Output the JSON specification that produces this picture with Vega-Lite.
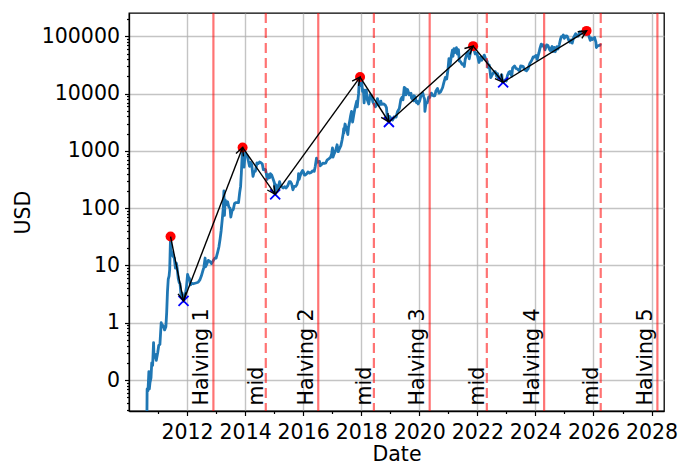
{
  "$schema": "https://vega.github.io/schema/vega-lite/v6.json",
  "autosize": {"type": "none"},
  "width": 535,
  "height": 398,
  "padding": {"left": 129, "top": 13, "right": 14, "bottom": 54},
  "background": "white",
  "config": {
    "view": {"stroke": "black", "strokeWidth": 1.3},
    "axis": {
      "labelFont": "DejaVu Sans",
      "labelFontSize": 20.5,
      "labelColor": "black",
      "titleFont": "DejaVu Sans",
      "titleFontSize": 20.5,
      "titleFontWeight": "normal",
      "titleColor": "black",
      "domainColor": "black",
      "domainWidth": 1.3,
      "tickColor": "black",
      "tickWidth": 1.2,
      "gridColor": "#b0b0b0",
      "gridWidth": 1.4
    }
  },
  "datasets": {
    "prices": [
      {"date": "2010-08-12", "usd": 0.008},
      {"date": "2010-08-17", "usd": 0.07},
      {"date": "2010-08-28", "usd": 0.065},
      {"date": "2010-09-08", "usd": 0.14},
      {"date": "2010-09-14", "usd": 0.07},
      {"date": "2010-09-22", "usd": 0.09},
      {"date": "2010-10-05", "usd": 0.11},
      {"date": "2010-10-14", "usd": 0.2},
      {"date": "2010-10-25", "usd": 0.18},
      {"date": "2010-11-06", "usd": 0.45},
      {"date": "2010-11-12", "usd": 0.25},
      {"date": "2010-11-25", "usd": 0.28},
      {"date": "2010-12-10", "usd": 0.22},
      {"date": "2010-12-28", "usd": 0.3},
      {"date": "2011-01-10", "usd": 0.4},
      {"date": "2011-01-25", "usd": 0.42},
      {"date": "2011-02-10", "usd": 1.0},
      {"date": "2011-02-20", "usd": 0.9},
      {"date": "2011-03-05", "usd": 0.9},
      {"date": "2011-03-25", "usd": 0.75},
      {"date": "2011-04-10", "usd": 0.85},
      {"date": "2011-04-20", "usd": 1.5},
      {"date": "2011-04-30", "usd": 3.5},
      {"date": "2011-05-10", "usd": 5.8},
      {"date": "2011-05-20", "usd": 6.5},
      {"date": "2011-05-28", "usd": 8.5},
      {"date": "2011-06-03", "usd": 18},
      {"date": "2011-06-08", "usd": 32},
      {"date": "2011-06-14", "usd": 19},
      {"date": "2011-06-20", "usd": 15},
      {"date": "2011-06-28", "usd": 17},
      {"date": "2011-07-10", "usd": 14.5},
      {"date": "2011-07-25", "usd": 13.5},
      {"date": "2011-08-08", "usd": 9},
      {"date": "2011-08-20", "usd": 11},
      {"date": "2011-09-01", "usd": 8.5},
      {"date": "2011-09-12", "usd": 6},
      {"date": "2011-09-25", "usd": 5},
      {"date": "2011-10-05", "usd": 4.8},
      {"date": "2011-10-20", "usd": 2.8},
      {"date": "2011-11-01", "usd": 3.3},
      {"date": "2011-11-18", "usd": 2.4},
      {"date": "2011-11-28", "usd": 2.6},
      {"date": "2011-12-10", "usd": 3.1},
      {"date": "2011-12-25", "usd": 4.2},
      {"date": "2012-01-08", "usd": 7.0},
      {"date": "2012-01-18", "usd": 6.3},
      {"date": "2012-02-01", "usd": 5.9},
      {"date": "2012-02-15", "usd": 4.6},
      {"date": "2012-03-01", "usd": 4.9},
      {"date": "2012-03-20", "usd": 4.8},
      {"date": "2012-04-10", "usd": 4.9},
      {"date": "2012-05-01", "usd": 5.0},
      {"date": "2012-05-20", "usd": 5.1},
      {"date": "2012-06-10", "usd": 5.6},
      {"date": "2012-06-30", "usd": 6.6},
      {"date": "2012-07-15", "usd": 7.8},
      {"date": "2012-07-31", "usd": 9.3},
      {"date": "2012-08-16", "usd": 13.5},
      {"date": "2012-08-20", "usd": 9.5},
      {"date": "2012-09-05", "usd": 10.5},
      {"date": "2012-09-25", "usd": 12.3},
      {"date": "2012-10-15", "usd": 11.8},
      {"date": "2012-11-05", "usd": 10.8},
      {"date": "2012-11-28", "usd": 12.3},
      {"date": "2012-12-15", "usd": 13.4},
      {"date": "2013-01-01", "usd": 13.5},
      {"date": "2013-01-20", "usd": 17},
      {"date": "2013-02-05", "usd": 21},
      {"date": "2013-02-20", "usd": 29},
      {"date": "2013-03-05", "usd": 40},
      {"date": "2013-03-20", "usd": 65},
      {"date": "2013-04-01", "usd": 100},
      {"date": "2013-04-09", "usd": 200},
      {"date": "2013-04-16", "usd": 75},
      {"date": "2013-04-25", "usd": 140},
      {"date": "2013-05-10", "usd": 115},
      {"date": "2013-05-25", "usd": 130},
      {"date": "2013-06-10", "usd": 105},
      {"date": "2013-06-25", "usd": 100},
      {"date": "2013-07-05", "usd": 70},
      {"date": "2013-07-20", "usd": 90},
      {"date": "2013-08-05", "usd": 95},
      {"date": "2013-08-20", "usd": 120},
      {"date": "2013-09-05", "usd": 125},
      {"date": "2013-09-25", "usd": 125},
      {"date": "2013-10-10", "usd": 125},
      {"date": "2013-10-25", "usd": 190},
      {"date": "2013-11-05", "usd": 240},
      {"date": "2013-11-15", "usd": 420},
      {"date": "2013-11-20", "usd": 600},
      {"date": "2013-11-30", "usd": 1150},
      {"date": "2013-12-07", "usd": 800},
      {"date": "2013-12-18", "usd": 520},
      {"date": "2013-12-25", "usd": 670},
      {"date": "2014-01-05", "usd": 930},
      {"date": "2014-01-15", "usd": 830},
      {"date": "2014-02-01", "usd": 820},
      {"date": "2014-02-10", "usd": 680},
      {"date": "2014-02-25", "usd": 540},
      {"date": "2014-03-10", "usd": 630},
      {"date": "2014-03-25", "usd": 580},
      {"date": "2014-04-10", "usd": 360},
      {"date": "2014-04-25", "usd": 440},
      {"date": "2014-05-10", "usd": 440},
      {"date": "2014-05-30", "usd": 620},
      {"date": "2014-06-15", "usd": 600},
      {"date": "2014-07-01", "usd": 640},
      {"date": "2014-07-20", "usd": 620},
      {"date": "2014-08-05", "usd": 590},
      {"date": "2014-08-18", "usd": 470},
      {"date": "2014-09-01", "usd": 475},
      {"date": "2014-09-15", "usd": 470},
      {"date": "2014-09-25", "usd": 400},
      {"date": "2014-10-05", "usd": 320},
      {"date": "2014-10-20", "usd": 385},
      {"date": "2014-11-05", "usd": 340},
      {"date": "2014-11-15", "usd": 400},
      {"date": "2014-12-01", "usd": 380},
      {"date": "2014-12-20", "usd": 320},
      {"date": "2015-01-05", "usd": 275},
      {"date": "2015-01-14", "usd": 175},
      {"date": "2015-01-25", "usd": 255},
      {"date": "2015-02-10", "usd": 220},
      {"date": "2015-02-25", "usd": 240},
      {"date": "2015-03-10", "usd": 290},
      {"date": "2015-03-25", "usd": 245},
      {"date": "2015-04-10", "usd": 235},
      {"date": "2015-04-25", "usd": 225},
      {"date": "2015-05-15", "usd": 238},
      {"date": "2015-06-01", "usd": 225},
      {"date": "2015-06-20", "usd": 245},
      {"date": "2015-07-10", "usd": 290},
      {"date": "2015-07-25", "usd": 290},
      {"date": "2015-08-10", "usd": 265},
      {"date": "2015-08-25", "usd": 210},
      {"date": "2015-09-10", "usd": 240},
      {"date": "2015-09-28", "usd": 240},
      {"date": "2015-10-15", "usd": 260},
      {"date": "2015-10-31", "usd": 315},
      {"date": "2015-11-04", "usd": 400},
      {"date": "2015-11-12", "usd": 320},
      {"date": "2015-11-25", "usd": 370},
      {"date": "2015-12-10", "usd": 420},
      {"date": "2015-12-25", "usd": 455},
      {"date": "2016-01-05", "usd": 430},
      {"date": "2016-01-15", "usd": 380},
      {"date": "2016-01-28", "usd": 380},
      {"date": "2016-02-15", "usd": 400},
      {"date": "2016-03-01", "usd": 430},
      {"date": "2016-03-20", "usd": 410},
      {"date": "2016-04-10", "usd": 420},
      {"date": "2016-04-30", "usd": 450},
      {"date": "2016-05-20", "usd": 440},
      {"date": "2016-06-01", "usd": 535},
      {"date": "2016-06-17", "usd": 750},
      {"date": "2016-06-25", "usd": 630},
      {"date": "2016-07-09", "usd": 650},
      {"date": "2016-07-25", "usd": 655},
      {"date": "2016-08-03", "usd": 550},
      {"date": "2016-08-20", "usd": 580},
      {"date": "2016-09-05", "usd": 610},
      {"date": "2016-09-25", "usd": 605},
      {"date": "2016-10-10", "usd": 615},
      {"date": "2016-10-28", "usd": 690},
      {"date": "2016-11-10", "usd": 715},
      {"date": "2016-11-25", "usd": 740},
      {"date": "2016-12-10", "usd": 770},
      {"date": "2016-12-25", "usd": 890},
      {"date": "2017-01-04", "usd": 1130},
      {"date": "2017-01-11", "usd": 780},
      {"date": "2017-01-25", "usd": 890},
      {"date": "2017-02-10", "usd": 1000},
      {"date": "2017-02-25", "usd": 1170},
      {"date": "2017-03-03", "usd": 1280},
      {"date": "2017-03-18", "usd": 970},
      {"date": "2017-04-01", "usd": 1090},
      {"date": "2017-04-20", "usd": 1240},
      {"date": "2017-05-05", "usd": 1550},
      {"date": "2017-05-20", "usd": 2050},
      {"date": "2017-05-25", "usd": 2450},
      {"date": "2017-05-27", "usd": 2050},
      {"date": "2017-06-11", "usd": 2950},
      {"date": "2017-06-20", "usd": 2700},
      {"date": "2017-07-01", "usd": 2450},
      {"date": "2017-07-16", "usd": 1930},
      {"date": "2017-07-25", "usd": 2600},
      {"date": "2017-08-10", "usd": 3400},
      {"date": "2017-08-20", "usd": 4100},
      {"date": "2017-09-01", "usd": 4900},
      {"date": "2017-09-14", "usd": 3200},
      {"date": "2017-09-30", "usd": 4350},
      {"date": "2017-10-12", "usd": 5400},
      {"date": "2017-10-20", "usd": 6000},
      {"date": "2017-11-05", "usd": 7400},
      {"date": "2017-11-12", "usd": 5900},
      {"date": "2017-11-28", "usd": 9900},
      {"date": "2017-12-07", "usd": 16500},
      {"date": "2017-12-17", "usd": 19500},
      {"date": "2017-12-22", "usd": 13800},
      {"date": "2018-01-06", "usd": 17100},
      {"date": "2018-01-17", "usd": 11000},
      {"date": "2018-01-28", "usd": 11700},
      {"date": "2018-02-06", "usd": 6900},
      {"date": "2018-02-20", "usd": 11400},
      {"date": "2018-03-05", "usd": 11500},
      {"date": "2018-03-18", "usd": 7800},
      {"date": "2018-04-06", "usd": 6600},
      {"date": "2018-04-24", "usd": 9600},
      {"date": "2018-05-10", "usd": 9300},
      {"date": "2018-05-28", "usd": 7100},
      {"date": "2018-06-12", "usd": 6500},
      {"date": "2018-06-28", "usd": 5900},
      {"date": "2018-07-10", "usd": 6300},
      {"date": "2018-07-24", "usd": 8200},
      {"date": "2018-08-14", "usd": 6200},
      {"date": "2018-09-04", "usd": 7400},
      {"date": "2018-09-15", "usd": 6500},
      {"date": "2018-10-10", "usd": 6600},
      {"date": "2018-10-30", "usd": 6300},
      {"date": "2018-11-14", "usd": 5700},
      {"date": "2018-11-25", "usd": 3800},
      {"date": "2018-12-05", "usd": 3800},
      {"date": "2018-12-15", "usd": 3200},
      {"date": "2018-12-24", "usd": 4000},
      {"date": "2019-01-10", "usd": 3700},
      {"date": "2019-01-29", "usd": 3450},
      {"date": "2019-02-20", "usd": 3950},
      {"date": "2019-03-15", "usd": 3900},
      {"date": "2019-04-03", "usd": 4900},
      {"date": "2019-04-25", "usd": 5500},
      {"date": "2019-05-14", "usd": 7900},
      {"date": "2019-05-30", "usd": 8700},
      {"date": "2019-06-10", "usd": 7800},
      {"date": "2019-06-26", "usd": 12900},
      {"date": "2019-07-02", "usd": 10600},
      {"date": "2019-07-10", "usd": 12500},
      {"date": "2019-07-17", "usd": 9500},
      {"date": "2019-08-06", "usd": 11800},
      {"date": "2019-08-29", "usd": 9500},
      {"date": "2019-09-19", "usd": 10200},
      {"date": "2019-09-25", "usd": 8400},
      {"date": "2019-10-23", "usd": 7500},
      {"date": "2019-10-26", "usd": 9200},
      {"date": "2019-11-10", "usd": 8800},
      {"date": "2019-11-25", "usd": 7000},
      {"date": "2019-12-10", "usd": 7300},
      {"date": "2019-12-17", "usd": 6600},
      {"date": "2020-01-05", "usd": 7400},
      {"date": "2020-01-19", "usd": 8900},
      {"date": "2020-02-13", "usd": 10300},
      {"date": "2020-02-28", "usd": 8700},
      {"date": "2020-03-08", "usd": 8000},
      {"date": "2020-03-12", "usd": 4900},
      {"date": "2020-03-25", "usd": 6700},
      {"date": "2020-04-10", "usd": 6900},
      {"date": "2020-04-29", "usd": 8800},
      {"date": "2020-05-11", "usd": 8600},
      {"date": "2020-06-01", "usd": 10200},
      {"date": "2020-06-25", "usd": 9200},
      {"date": "2020-07-15", "usd": 9200},
      {"date": "2020-07-28", "usd": 11100},
      {"date": "2020-08-17", "usd": 12300},
      {"date": "2020-09-05", "usd": 10200},
      {"date": "2020-09-25", "usd": 10700},
      {"date": "2020-10-21", "usd": 12800},
      {"date": "2020-11-05", "usd": 15600},
      {"date": "2020-11-24", "usd": 19200},
      {"date": "2020-12-11", "usd": 18000},
      {"date": "2020-12-27", "usd": 26300},
      {"date": "2021-01-08", "usd": 40800},
      {"date": "2021-01-22", "usd": 30800},
      {"date": "2021-02-08", "usd": 46400},
      {"date": "2021-02-21", "usd": 57500},
      {"date": "2021-02-28", "usd": 45000},
      {"date": "2021-03-13", "usd": 61200},
      {"date": "2021-03-25", "usd": 52000},
      {"date": "2021-04-13", "usd": 63500},
      {"date": "2021-04-25", "usd": 49000},
      {"date": "2021-05-08", "usd": 58800},
      {"date": "2021-05-19", "usd": 37000},
      {"date": "2021-06-05", "usd": 36000},
      {"date": "2021-06-22", "usd": 32500},
      {"date": "2021-07-08", "usd": 33000},
      {"date": "2021-07-20", "usd": 29800},
      {"date": "2021-08-01", "usd": 39900},
      {"date": "2021-08-22", "usd": 49300},
      {"date": "2021-09-06", "usd": 52700},
      {"date": "2021-09-21", "usd": 40600},
      {"date": "2021-10-01", "usd": 48200},
      {"date": "2021-10-20", "usd": 66000},
      {"date": "2021-10-27", "usd": 58500},
      {"date": "2021-11-08", "usd": 67500},
      {"date": "2021-11-20", "usd": 59000},
      {"date": "2021-12-04", "usd": 49300},
      {"date": "2021-12-27", "usd": 50700},
      {"date": "2022-01-10", "usd": 41800},
      {"date": "2022-01-22", "usd": 35000},
      {"date": "2022-02-10", "usd": 44000},
      {"date": "2022-02-24", "usd": 38300},
      {"date": "2022-03-28", "usd": 47100},
      {"date": "2022-04-15", "usd": 40500},
      {"date": "2022-05-05", "usd": 36500},
      {"date": "2022-05-12", "usd": 28900},
      {"date": "2022-05-30", "usd": 31800},
      {"date": "2022-06-13", "usd": 22500},
      {"date": "2022-06-18", "usd": 19000},
      {"date": "2022-07-08", "usd": 21600},
      {"date": "2022-07-30", "usd": 24000},
      {"date": "2022-08-14", "usd": 24300},
      {"date": "2022-08-31", "usd": 20000},
      {"date": "2022-09-12", "usd": 22400},
      {"date": "2022-09-21", "usd": 18500},
      {"date": "2022-10-10", "usd": 19100},
      {"date": "2022-11-05", "usd": 21300},
      {"date": "2022-11-10", "usd": 16000},
      {"date": "2022-11-21", "usd": 15800},
      {"date": "2022-12-15", "usd": 17400},
      {"date": "2022-12-30", "usd": 16600},
      {"date": "2023-01-15", "usd": 20900},
      {"date": "2023-02-01", "usd": 23700},
      {"date": "2023-02-16", "usd": 24400},
      {"date": "2023-03-10", "usd": 20200},
      {"date": "2023-03-20", "usd": 28000},
      {"date": "2023-04-14", "usd": 30500},
      {"date": "2023-05-01", "usd": 27600},
      {"date": "2023-05-15", "usd": 27200},
      {"date": "2023-06-15", "usd": 25000},
      {"date": "2023-06-30", "usd": 30500},
      {"date": "2023-07-15", "usd": 30300},
      {"date": "2023-08-01", "usd": 29700},
      {"date": "2023-08-18", "usd": 26100},
      {"date": "2023-09-11", "usd": 25100},
      {"date": "2023-09-30", "usd": 27000},
      {"date": "2023-10-24", "usd": 34000},
      {"date": "2023-11-15", "usd": 37800},
      {"date": "2023-12-05", "usd": 44000},
      {"date": "2023-12-20", "usd": 43600},
      {"date": "2024-01-11", "usd": 46600},
      {"date": "2024-01-23", "usd": 39500},
      {"date": "2024-02-15", "usd": 51900},
      {"date": "2024-02-28", "usd": 62500},
      {"date": "2024-03-14", "usd": 73100},
      {"date": "2024-03-20", "usd": 67800},
      {"date": "2024-04-08", "usd": 71600},
      {"date": "2024-04-20", "usd": 64900},
      {"date": "2024-05-01", "usd": 58000},
      {"date": "2024-05-21", "usd": 71000},
      {"date": "2024-06-07", "usd": 69400},
      {"date": "2024-06-24", "usd": 60300},
      {"date": "2024-07-05", "usd": 56700},
      {"date": "2024-07-29", "usd": 66800},
      {"date": "2024-08-05", "usd": 54000},
      {"date": "2024-08-25", "usd": 64200},
      {"date": "2024-09-06", "usd": 53900},
      {"date": "2024-09-27", "usd": 65800},
      {"date": "2024-10-10", "usd": 60300},
      {"date": "2024-10-29", "usd": 72700},
      {"date": "2024-11-13", "usd": 90500},
      {"date": "2024-11-22", "usd": 98900},
      {"date": "2024-12-05", "usd": 98000},
      {"date": "2024-12-17", "usd": 106100},
      {"date": "2024-12-30", "usd": 92600},
      {"date": "2025-01-20", "usd": 102000},
      {"date": "2025-02-03", "usd": 101000},
      {"date": "2025-02-26", "usd": 84300},
      {"date": "2025-03-10", "usd": 78500},
      {"date": "2025-03-26", "usd": 87000},
      {"date": "2025-04-08", "usd": 76300},
      {"date": "2025-04-25", "usd": 94700},
      {"date": "2025-05-22", "usd": 111700},
      {"date": "2025-06-05", "usd": 101500},
      {"date": "2025-06-22", "usd": 101000},
      {"date": "2025-07-14", "usd": 119800},
      {"date": "2025-07-30", "usd": 117800},
      {"date": "2025-08-13", "usd": 123300},
      {"date": "2025-08-31", "usd": 108200},
      {"date": "2025-09-18", "usd": 117000},
      {"date": "2025-09-25", "usd": 109000},
      {"date": "2025-10-06", "usd": 124700},
      {"date": "2025-10-10", "usd": 113000},
      {"date": "2025-10-27", "usd": 114000},
      {"date": "2025-11-04", "usd": 101500},
      {"date": "2025-11-21", "usd": 85000},
      {"date": "2025-12-03", "usd": 93500},
      {"date": "2025-12-20", "usd": 88000},
      {"date": "2026-01-14", "usd": 96000},
      {"date": "2026-01-31", "usd": 79000},
      {"date": "2026-02-06", "usd": 64000},
      {"date": "2026-02-20", "usd": 68000},
      {"date": "2026-03-10", "usd": 69000},
      {"date": "2026-03-25", "usd": 71000},
      {"date": "2026-04-10", "usd": 70000}
    ],
    "events": [
      {"date": "2012-11-28", "label": "Halving 1", "kind": "halving"},
      {"date": "2014-09-18", "label": "mid", "kind": "mid"},
      {"date": "2016-07-09", "label": "Halving 2", "kind": "halving"},
      {"date": "2018-06-09", "label": "mid", "kind": "mid"},
      {"date": "2020-05-11", "label": "Halving 3", "kind": "halving"},
      {"date": "2022-04-30", "label": "mid", "kind": "mid"},
      {"date": "2024-04-20", "label": "Halving 4", "kind": "halving"},
      {"date": "2026-04-02", "label": "mid", "kind": "mid"},
      {"date": "2028-03-15", "label": "Halving 5", "kind": "halving"}
    ],
    "extremes": [
      {"date": "2011-06-08", "usd": 32, "kind": "peak"},
      {"date": "2011-11-18", "usd": 2.4, "kind": "trough"},
      {"date": "2013-11-30", "usd": 1150, "kind": "peak"},
      {"date": "2015-01-14", "usd": 175, "kind": "trough"},
      {"date": "2017-12-17", "usd": 19500, "kind": "peak"},
      {"date": "2018-12-15", "usd": 3200, "kind": "trough"},
      {"date": "2021-11-08", "usd": 67500, "kind": "peak"},
      {"date": "2022-11-21", "usd": 15800, "kind": "trough"},
      {"date": "2025-10-06", "usd": 124700, "kind": "peak"}
    ]
  },
  "encoding": {
    "x": {
      "field": "date",
      "type": "temporal",
      "scale": {"domain": [{"year": 2010, "month": 1, "date": 1}, {"year": 2028, "month": 6, "date": 6}], "nice": false},
      "axis": {
        "title": "Date",
        "values": [
          {"year": 2011}, {"year": 2012}, {"year": 2013}, {"year": 2014}, {"year": 2015}, {"year": 2016},
          {"year": 2017}, {"year": 2018}, {"year": 2019}, {"year": 2020}, {"year": 2021}, {"year": 2022},
          {"year": 2023}, {"year": 2024}, {"year": 2025}, {"year": 2026}, {"year": 2027}, {"year": 2028}
        ],
        "labelExpr": "year(datum.value) % 2 == 0 ? timeFormat(datum.value, '%Y') : ''",
        "tickSize": {"condition": {"test": "year(datum.value) % 2 == 0", "value": 4.5}, "value": 2.5},
        "gridOpacity": {"condition": {"test": "year(datum.value) % 2 == 0", "value": 0.75}, "value": 0},
        "labelPadding": 7,
        "labelFlush": false,
        "labelOverlap": false,
        "labelBound": false,
        "titlePadding": 1
      }
    }
  },
  "layer": [
    {
      "data": {"name": "prices"},
      "mark": {"type": "line", "color": "#1f77b4", "strokeWidth": 2.8, "clip": true, "strokeJoin": "round"},
      "encoding": {
        "y": {
          "field": "usd",
          "type": "quantitative",
          "scale": {"type": "log", "domain": [0.0288, 256000], "nice": false},
          "axis": {
            "title": "USD",
            "values": [
              0.03, 0.04, 0.05, 0.06, 0.07, 0.08, 0.09,
              0.1, 0.2, 0.3, 0.4, 0.5, 0.6, 0.7, 0.8, 0.9,
              1, 2, 3, 4, 5, 6, 7, 8, 9,
              10, 20, 30, 40, 50, 60, 70, 80, 90,
              100, 200, 300, 400, 500, 600, 700, 800, 900,
              1000, 2000, 3000, 4000, 5000, 6000, 7000, 8000, 9000,
              10000, 20000, 30000, 40000, 50000, 60000, 70000, 80000, 90000,
              100000, 200000
            ],
            "format": "d",
            "labelExpr": "abs(log(datum.value) / LN10 - round(log(datum.value) / LN10)) < 0.001 ? datum.label : ''",
            "tickSize": {"condition": {"test": "abs(log(datum.value) / LN10 - round(log(datum.value) / LN10)) < 0.001", "value": 4.5}, "value": 2.5},
            "gridOpacity": {"condition": {"test": "abs(log(datum.value) / LN10 - round(log(datum.value) / LN10)) < 0.001", "value": 0.75}, "value": 0},
            "labelPadding": 5,
            "labelOverlap": false,
            "labelBound": false,
            "titlePadding": 8
          }
        }
      }
    },
    {
      "data": {"name": "events"},
      "mark": {"type": "rule", "color": "red", "opacity": 0.55, "strokeWidth": 2.2},
      "encoding": {
        "strokeDash": {
          "field": "kind",
          "type": "nominal",
          "scale": {"domain": ["halving", "mid"], "range": [[1, 0], [10, 5]]},
          "legend": null
        }
      }
    },
    {
      "data": {"name": "events"},
      "transform": [{"filter": "datum.kind == 'halving'"}],
      "mark": {"type": "text", "angle": 270, "align": "left", "baseline": "alphabetic", "dy": -5.6, "font": "DejaVu Sans", "fontSize": 20.5, "fill": "black"},
      "encoding": {
        "y": {"datum": 0.036},
        "text": {"field": "label", "type": "nominal"}
      }
    },
    {
      "data": {"name": "events"},
      "transform": [{"filter": "datum.kind == 'mid'"}],
      "mark": {"type": "text", "angle": 270, "align": "left", "baseline": "alphabetic", "dy": -2.7, "font": "DejaVu Sans", "fontSize": 20.5, "fill": "black"},
      "encoding": {
        "y": {"datum": 0.036},
        "text": {"field": "label", "type": "nominal"}
      }
    },
    {
      "data": {"name": "extremes"},
      "transform": [{"filter": "datum.kind == 'peak'"}],
      "mark": {"type": "point", "shape": "circle", "filled": true, "color": "#ff0000", "opacity": 1, "size": 100},
      "encoding": {
        "y": {"field": "usd", "type": "quantitative"}
      }
    },
    {
      "data": {"name": "extremes"},
      "transform": [{"filter": "datum.kind == 'trough'"}],
      "mark": {"type": "point", "shape": "M -1 -1 L 1 1 M -1 1 L 1 -1", "filled": false, "stroke": "#0000ff", "strokeWidth": 1.8, "opacity": 1, "size": 100},
      "encoding": {
        "y": {"field": "usd", "type": "quantitative"}
      }
    },
    {
      "data": {
        "values": [
          {"date": "2011-06-08", "usd": 32, "to_date": "2011-11-18", "to_usd": 2.4},
          {"date": "2011-11-18", "usd": 2.4, "to_date": "2013-11-30", "to_usd": 1150},
          {"date": "2013-11-30", "usd": 1150, "to_date": "2015-01-14", "to_usd": 175},
          {"date": "2015-01-14", "usd": 175, "to_date": "2017-12-17", "to_usd": 19500},
          {"date": "2017-12-17", "usd": 19500, "to_date": "2018-12-15", "to_usd": 3200},
          {"date": "2018-12-15", "usd": 3200, "to_date": "2021-11-08", "to_usd": 67500},
          {"date": "2021-11-08", "usd": 67500, "to_date": "2022-11-21", "to_usd": 15800},
          {"date": "2022-11-21", "usd": 15800, "to_date": "2025-10-06", "to_usd": 124700}
        ],
        "format": {"parse": {"date": "date", "to_date": "date"}}
      },
      "layer": [
        {
          "mark": {"type": "rule", "color": "black", "strokeWidth": 1.4},
          "encoding": {
            "y": {"field": "usd", "type": "quantitative"},
            "x2": {"field": "to_date"},
            "y2": {"field": "to_usd"}
          }
        },
        {
          "mark": {
            "type": "point",
            "shape": "M -1 -0.5 L 0 0 L -1 0.5",
            "filled": false,
            "stroke": "black",
            "strokeWidth": 1.4,
            "opacity": 1,
            "size": 256,
            "angle": {"expr": "atan2(scale('y', datum.to_usd) - scale('y', datum.usd), scale('x', datum.to_date) - scale('x', datum.date)) * 180 / PI"}
          },
          "encoding": {
            "x": {"field": "to_date", "type": "temporal"},
            "y": {"field": "to_usd", "type": "quantitative"}
          }
        }
      ]
    }
  ]
}
